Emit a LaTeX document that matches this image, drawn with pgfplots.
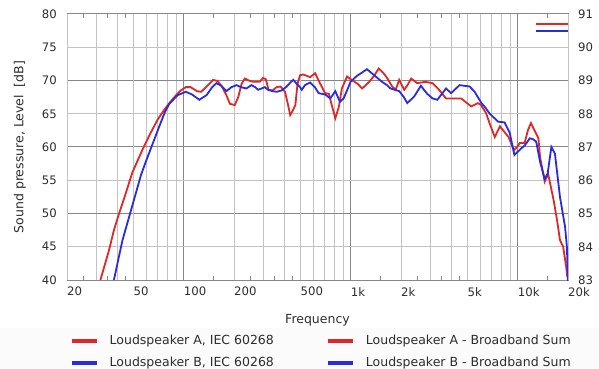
\documentclass[border=0pt]{standalone}
\usepackage{pgfplots}
\pgfplotsset{compat=1.18}
\usepackage{fontspec}
\setmainfont{DejaVu Sans}

\definecolor{curveA}{RGB}{222,40,40}
\definecolor{curveB}{RGB}{42,42,222}
\definecolor{gridlight}{RGB}{195,195,195}
\definecolor{griddark}{RGB}{135,135,135}
\definecolor{labeltext}{RGB}{45,45,45}
\definecolor{legendback}{RGB}{251,251,251}

% Loudspeaker A, IEC 60268 weighting: frequency [Hz], level [dB]
\pgfplotstableread{
f      L
31.7   40.0
35.7   44.5
38.2   47.5
41.0   50.0
44.0   52.3
49.3   56.2
56.6   59.6
63     62.0
69.7   64.1
76     65.5
82     66.6
90     67.8
96     68.5
103    69.0
110    69.0
120    68.4
127    68.3
136    69.0
150    70.1
160    69.9
170    69.0
180    67.8
189    66.5
202    66.3
212    67.5
222    69.5
232    70.3
245    70.0
260    69.8
285    69.8
299    70.4
310    70.2
322    68.6
340    68.5
360    69.0
380    69.1
404    68.3
420    66.5
434    64.8
450    65.5
466    66.3
480    69.5
497    70.8
521    70.9
545    70.7
571    70.5
612    71.1
654    69.6
702    68.1
740    68.0
770    66.3
808    64.3
850    66.1
885    68.8
950    70.6
1010   70.1
1100   69.5
1170   68.8
1230   69.3
1290   69.8
1380   70.7
1470   71.8
1560   71.2
1650   70.4
1770   69.1
1860   68.6
1950   70.1
2090   68.6
2200   69.4
2300   70.3
2500   69.6
2800   69.8
3090   69.6
3380   68.6
3720   67.3
4580   67.3
5270   66.1
5770   66.6
6030   66.3
6460   65.1
6800   63.5
7290   61.5
7820   63.1
8300   62.3
8810   61.5
9500   59.5
9900   60.0
10300  60.6
11000  60.6
11500  62.5
12000  63.6
12600  62.5
13300  61.3
13600  58.5
14500  54.8
15200  56.0
16400  52.0
17200  49.0
17900  46.0
18700  45.0
19500  42.0
19800  40.5
}\speakerA

% Loudspeaker B, IEC 60268 weighting: frequency [Hz], level [dB]
\pgfplotstableread{
f      L
38.2   40.0
40.5   43.0
43.0   46.0
47.1   49.5
51.6   53.0
55.5   55.8
59.3   57.8
63.6   59.8
71.4   63.1
77     65.2
82     66.5
92     67.8
103    68.3
112    67.9
124    67.1
137    67.8
148    69.0
157    69.6
168    69.2
180    68.4
193    69.0
207    69.3
220    69.0
237    68.8
254    69.3
268    69.0
279    68.6
306    69.0
320    68.6
340    68.4
360    68.3
385    68.5
414    69.1
435    69.7
453    70.1
475    69.5
497    69.0
509    68.6
532    69.3
571    69.7
610    69.0
642    68.1
702    67.9
755    67.3
808    68.4
862    66.8
906    67.3
950    68.5
997    69.8
1090   70.7
1170   71.2
1250   71.7
1380   70.8
1540   69.8
1650   69.3
1730   68.8
1950   68.4
2080   67.5
2180   66.6
2400   67.6
2630   69.2
2870   68.0
3090   67.3
3300   67.1
3720   68.8
3990   68.1
4480   69.3
5150   69.1
5520   68.3
6060   66.6
6320   66.1
6800   65.0
7640   63.8
8340   63.7
8960   62.1
9550   58.8
10500  59.8
11000  60.2
11800  61.3
12300  61.2
12900  60.8
13600  57.8
14500  55.2
15100  56.0
15900  60.0
16700  59.0
17900  52.5
19200  48.0
19700  45.0
20000  39.5
}\speakerB

\pgfplotsset{/pgf/number format/assume math mode=true}

\begin{document}
\fontsize{12.5}{15}\selectfont
\begin{tikzpicture}[x=1pt,y=1pt]
\useasboundingbox (0,0) rectangle (599,369);
% light panel behind the legend
\fill[legendback] (0,0) rectangle (599,41);

% main axis: frequency responses on the left scale
\begin{axis}[
  at={(67pt,89pt)}, anchor=south west,
  scale only axis, width=501pt, height=266pt,
  xmode=log, xmin=20, xmax=20000,
  ymin=40, ymax=80,
  axis line style={griddark, line width=1pt},
  xtick={100,1000,10000}, xticklabels={100,1k,10k},
  extra x ticks={20,50,200,500,2000,5000,20000},
  extra x tick labels={20,50,200,500,2k,5k,20k},
  extra x tick style={major grid style={gridlight, line width=1pt}},
  minor xtick={30,40,60,70,80,90,300,400,600,700,800,900,3000,4000,6000,7000,8000,9000},
  ytick={40,50,60,70,80},
  extra y ticks={45,55,65,75},
  extra y tick style={major grid style={gridlight, line width=1pt}},
  xmajorgrids, xminorgrids, ymajorgrids,
  major grid style={griddark, line width=1pt},
  minor grid style={gridlight, line width=1pt},
  major tick length=0pt, minor tick length=0pt,
  ytick pos=left, xtick pos=bottom,
  tick label style={font=\fontsize{11.7}{14}\selectfont},
  xticklabel style={anchor=north west, inner sep=0pt, yshift=-7pt, text=labeltext},
  yticklabel style={anchor=east, inner sep=0pt, xshift=-10pt, text=labeltext},
  xlabel={Frequency},
  xlabel style={at={(axis description cs:0.5,0)}, anchor=base, yshift=-43pt, text=labeltext},
  ylabel={Sound pressure, Level\ \ [dB]},
  ylabel style={at={(axis description cs:-0.0938,0.5)}, anchor=center, text=labeltext},
  legend columns=2,
  legend style={
    at={(axis description cs:0.005,-0.2068)}, anchor=north west,
    draw=none, fill=none, inner sep=0pt, row sep=10.5pt,
    nodes={inner sep=0pt, text height=9pt, text depth=2.5pt, text=labeltext},
    /tikz/every odd column/.append style={column sep=11pt},
    /tikz/every even column/.append style={column sep=52pt},
  },
  legend cell align=left,
  legend image code/.code={\draw[#1, line width=4pt] (0pt,0pt) -- (25pt,0pt);},
]
\addplot[curveA, line width=1.8pt, forget plot] table[x=f, y=L] {\speakerA};
\addplot[curveB, line width=1.8pt, forget plot] table[x=f, y=L] {\speakerB};
\addlegendimage{curveA}
\addlegendentry{Loudspeaker A, IEC 60268}
\addlegendimage{curveA}
\addlegendentry{Loudspeaker A - Broadband Sum}
\addlegendimage{curveB}
\addlegendentry{Loudspeaker B, IEC 60268}
\addlegendimage{curveB}
\addlegendentry{Loudspeaker B - Broadband Sum}
\end{axis}

% second axis: broadband sums on the right scale, plus the half-step ticks
\begin{axis}[
  at={(67pt,89pt)}, anchor=south west,
  scale only axis, width=501pt, height=266pt,
  xmode=log, xmin=20, xmax=20000,
  ymin=83, ymax=91,
  axis line style={draw=none},
  xtick={25,35,45,150,250,350,450,1500,2500,3500,4500,15000},
  xticklabels={},
  xtick style={griddark, line width=0.8pt},
  major tick length=4pt,
  ytick={83,84,...,91},
  ytick pos=right, yticklabel pos=right,
  ytick style={draw=none},
  tick label style={font=\fontsize{11.7}{14}\selectfont},
  yticklabel style={anchor=west, inner sep=0pt, xshift=10pt, text=labeltext},
]
\addplot[curveA, line width=1.8pt] coordinates {(12800,90.70) (20000,90.70)};
\addplot[curveB, line width=1.8pt] coordinates {(12800,90.50) (20000,90.50)};
\end{axis}
\end{tikzpicture}
\end{document}
